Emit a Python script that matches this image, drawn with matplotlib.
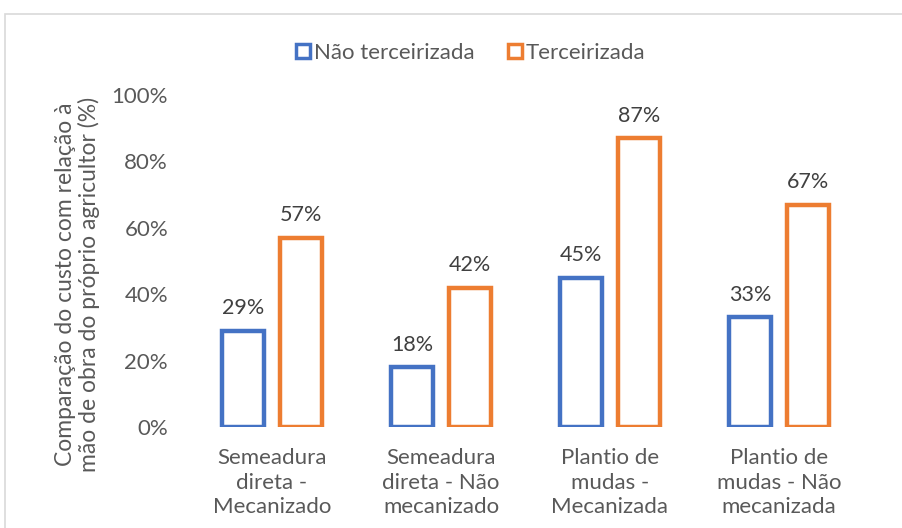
import matplotlib.pyplot as plt
from matplotlib.patches import Rectangle
import numpy as np

categories = ['Semeadura\ndireta -\nMecanizado', 'Semeadura\ndireta - Não\nmecanizado',
              'Plantio de\nmudas -\nMecanizada', 'Plantio de\nmudas - Não\nmecanizada']
nao_terceirizada = [29, 18, 45, 33]
terceirizada = [57, 42, 87, 67]
series_names = ['Não terceirizada', 'Terceirizada']
colors = ['#4472C4', '#ED7D31']

plt.rcParams['font.family'] = ['Lato', 'DejaVu Sans']

fig = plt.figure(figsize=(9.03, 5.28), dpi=100)
ax = fig.add_axes([0.2076, 0.1913, 0.7486, 0.6288])

# chart border like the spreadsheet frame
fig.patches.append(Rectangle((5 / 903, -0.1), 1.1, (528 - 14) / 528 + 0.1,
                             transform=fig.transFigure, fill=False,
                             edgecolor='#D9D9D9', linewidth=1.2))

x = np.arange(len(categories))
w = 0.25
off = 0.17
for vals, dx, c, name in zip([nao_terceirizada, terceirizada], [-off, off], colors, series_names):
    ax.bar(x + dx, vals, w, facecolor='white', edgecolor=c, linewidth=3.2, label=name)
    for xi, v in zip(x + dx, vals):
        ax.annotate(f'{v}%', (xi, v), xytext=(0, 9), textcoords='offset points',
                    ha='center', va='bottom', fontsize=15.5, color='#404040')

ax.set_xlim(-0.5, 3.5)
ax.set_ylim(0, 100)
ax.set_yticks(range(0, 101, 20))
ax.set_yticklabels([f'{t}%' for t in range(0, 101, 20)])
ax.set_xticks(x)
ax.set_xticklabels(categories, linespacing=1.3)
ax.tick_params(axis='both', length=0, labelsize=16, labelcolor='#595959')
ax.tick_params(axis='x', pad=15)
ax.tick_params(axis='y', pad=14)
for s in ax.spines.values():
    s.set_visible(False)

ax.set_ylabel('Comparação do custo com relação à\nmão de obra do próprio agricultor (%)',
              fontsize=16.5, color='#595959', linespacing=1.1)
ax.yaxis.set_label_coords(-0.13, 0.43)

leg = ax.legend(loc='center', bbox_to_anchor=(471 / 903, 1 - 53 / 528), bbox_transform=fig.transFigure,
                ncol=2, frameon=False, fontsize=16, handlelength=0.6, handleheight=0.6,
                handletextpad=0.2, columnspacing=1.5)
for t in leg.get_texts():
    t.set_color('#595959')
for h in leg.legend_handles:
    h.set_linewidth(2.5)

fig.savefig('out.png', dpi=100)
